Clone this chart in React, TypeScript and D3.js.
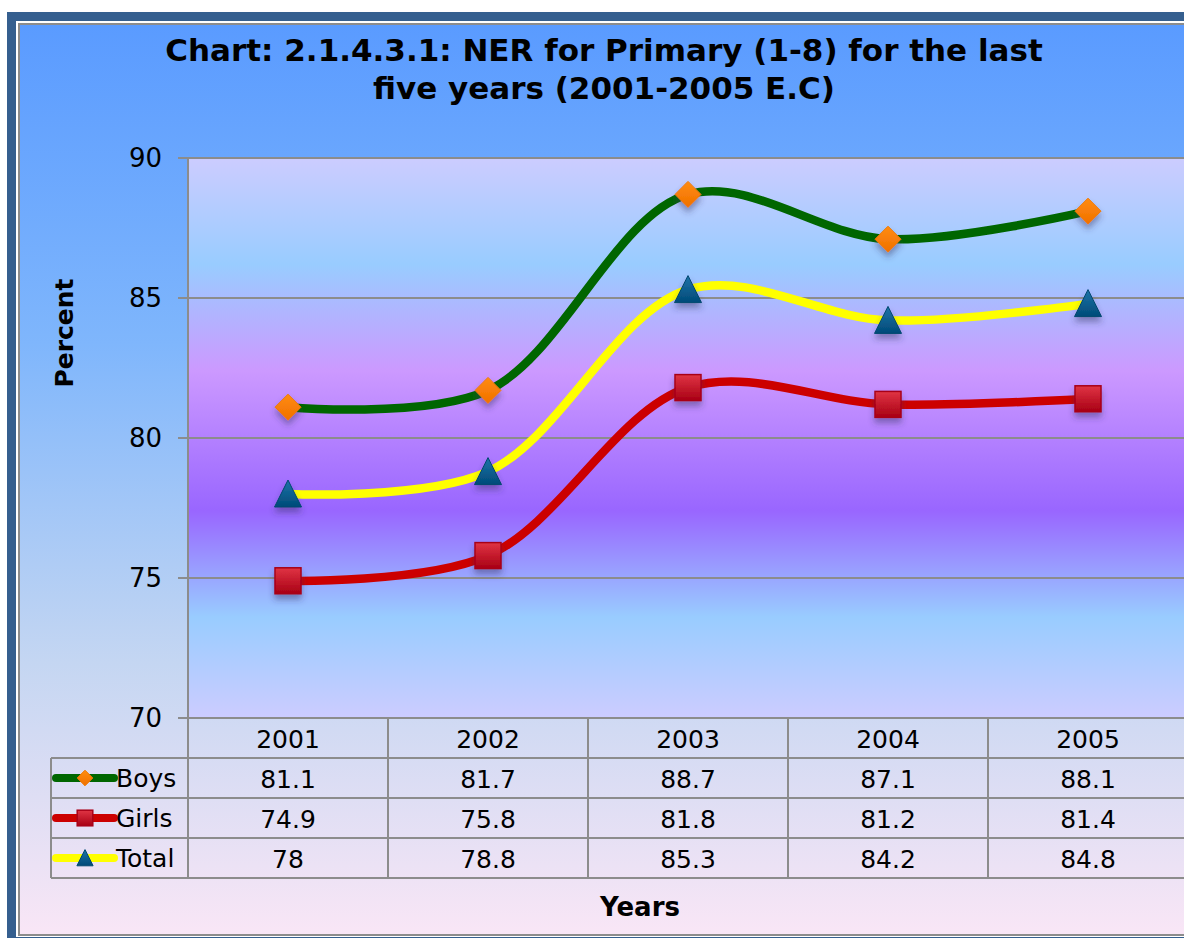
import React from "react";
import { scaleBand, scaleLinear, line, curveCatmullRom } from "d3";

// chart values
const years = ["2001", "2002", "2003", "2004", "2005"];
const boys = [81.1, 81.7, 88.7, 87.1, 88.1];
const girls = [74.9, 75.8, 81.8, 81.2, 81.4];
const total = [78, 78.8, 85.3, 84.2, 84.8];
const yTicks = [70, 75, 80, 85, 90];

const series = [
    { name: "Boys", values: boys, color: "#006600", marker: "diamond" },
    { name: "Girls", values: girls, color: "#cc0000", marker: "square" },
    { name: "Total", values: total, color: "#ffff00", marker: "triangle" },
];

const W = 1184;
const H = 938;
const plot = { left: 188, right: 1188, top: 158, bottom: 718 };
const rowH = 40;
const legendLeft = 51;
const font = "DejaVu Sans, Verdana, sans-serif";
const grid = "#8c8c8c";

const Marker = ({ type, x, y, s = 1 }: { type: string; x: number; y: number; s?: number }) => {
    if (type === "diamond") {
        const r = 13 * s;
        return (
            <path
                d={`M${x},${y - r}L${x + r},${y}L${x},${y + r}L${x - r},${y}Z`}
                fill="url(#gDiamond)"
                stroke="#f07800"
                strokeWidth={1}
            />
        );
    }
    if (type === "square") {
        const r = 13 * s;
        return (
            <rect
                x={x - r}
                y={y - r}
                width={2 * r}
                height={2 * r}
                fill="url(#gSquare)"
                stroke="#a80018"
                strokeWidth={1.5}
            />
        );
    }
    const w = 13.5 * s;
    return (
        <path
            d={`M${x},${y - 14 * s}L${x + w},${y + 13 * s}L${x - w},${y + 13 * s}Z`}
            fill="url(#gTri)"
            stroke="#004870"
            strokeWidth={1}
        />
    );
};

export default function App() {
    const x = scaleBand<string>().domain(years).range([plot.left, plot.right]);
    const y = scaleLinear().domain([70, 90]).range([plot.bottom, plot.top]);
    const cx = (yr: string) => (x(yr) as number) + x.bandwidth() / 2;

    const path = (vals: number[]) =>
        line<number>()
            .x((_, i) => cx(years[i]))
            .y((d) => y(d))
            .curve(curveCatmullRom.alpha(0.5))(vals) as string;

    const tableTop = plot.bottom;
    const tableBottom = tableTop + rowH * (series.length + 1);

    return (
        <svg
            width={W}
            height={H}
            style={{ position: "absolute", left: 0, top: 0 }}
            fontFamily={font}
        >
            <defs>
                <linearGradient id="gOuter" x1="0" y1="0" x2="0" y2="1">
                    <stop offset="0" stopColor="#5a9bff" />
                    <stop offset="0.35" stopColor="#7fb6fc" />
                    <stop offset="0.7" stopColor="#c4d6f2" />
                    <stop offset="1" stopColor="#f9e6f6" />
                </linearGradient>
                <linearGradient id="gPlot" x1="0" y1="0" x2="0" y2="1">
                    <stop offset="0" stopColor="#ccccff" />
                    <stop offset="0.19" stopColor="#99ccff" />
                    <stop offset="0.38" stopColor="#cc99ff" />
                    <stop offset="0.63" stopColor="#9966ff" />
                    <stop offset="0.82" stopColor="#99ccff" />
                    <stop offset="1" stopColor="#ccccff" />
                </linearGradient>
                <linearGradient id="gDiamond" x1="0" y1="0" x2="0" y2="1">
                    <stop offset="0" stopColor="#ff8c10" />
                    <stop offset="1" stopColor="#f07000" />
                </linearGradient>
                <linearGradient id="gSquare" x1="0" y1="0" x2="0" y2="1">
                    <stop offset="0" stopColor="#e03444" />
                    <stop offset="1" stopColor="#a80014" />
                </linearGradient>
                <linearGradient id="gTri" x1="0" y1="0" x2="0" y2="1">
                    <stop offset="0" stopColor="#1e74a8" />
                    <stop offset="1" stopColor="#004a78" />
                </linearGradient>
                <filter id="shadow" x="-50%" y="-50%" width="200%" height="220%">
                    <feDropShadow dx="0" dy="5" stdDeviation="3" floodColor="#303060" floodOpacity="0.45" />
                </filter>
                <clipPath id="clipPlot">
                    <rect x={plot.left} y={plot.top - 20} width={W - plot.left} height={plot.bottom - plot.top + 20} />
                </clipPath>
            </defs>

            {/* frame */}
            <rect x={7} y={12} width={W} height={H} fill="#355f8f" />
            <rect x={16} y={21} width={W} height={H - 21 - 1} fill="#ffffff" />
            <rect x={18} y={23} width={W} height={H - 23 - 2} fill="#8c8c8c" />
            <rect x={20} y={25} width={W} height={H - 25 - 4} fill="url(#gOuter)" />

            {/* title */}
            <text textAnchor="middle" fontWeight="bold" fontSize={31} fill="#000">
                <tspan x={604} y={61}>Chart: 2.1.4.3.1: NER for Primary (1-8) for the last</tspan>
                <tspan x={604} y={99}>five years (2001-2005 E.C)</tspan>
            </text>

            {/* plot area */}
            <rect x={plot.left} y={plot.top} width={plot.right - plot.left} height={plot.bottom - plot.top} fill="url(#gPlot)" />
            {yTicks.map((t) => (
                <g key={t}>
                    <line x1={plot.left - 10} x2={plot.right} y1={y(t)} y2={y(t)} stroke={grid} strokeWidth={2} />
                    <text x={162} y={y(t) + 9} textAnchor="end" fontSize={26} fill="#000">
                        {t}
                    </text>
                </g>
            ))}
            <line x1={plot.left} x2={plot.left} y1={plot.top} y2={tableBottom} stroke={grid} strokeWidth={2} />

            {/* series */}
            <g clipPath="url(#clipPlot)">
                {series.map((s) => (
                    <path
                        key={s.name}
                        d={path(s.values)}
                        fill="none"
                        stroke={s.color}
                        strokeWidth={8.5}
                        strokeLinecap="round"
                        strokeLinejoin="round"
                    />
                ))}
                {series.map((s) => (
                    <g key={s.name} filter="url(#shadow)">
                        {s.values.map((v, i) => (
                            <Marker key={i} type={s.marker} x={cx(years[i])} y={y(v)} />
                        ))}
                    </g>
                ))}
            </g>

            {/* data table */}
            <g>
                {years.map((yr) => (
                    <text key={yr} x={cx(yr)} y={tableTop + 30} textAnchor="middle" fontSize={25} fill="#000">
                        {yr}
                    </text>
                ))}
                {series.map((s, r) => {
                    const top = tableTop + rowH * (r + 1);
                    const mid = top + rowH / 2;
                    return (
                        <g key={s.name}>
                            <line x1={legendLeft} x2={W} y1={top} y2={top} stroke={grid} strokeWidth={2} />
                            <line x1={56} x2={114} y1={mid} y2={mid} stroke={s.color} strokeWidth={8} strokeLinecap="round" />
                            <Marker type={s.marker} x={85} y={mid} s={0.6} />
                            <text x={116} y={mid + 9} fontSize={25} fill="#000">
                                {s.name}
                            </text>
                            {s.values.map((v, i) => (
                                <text key={i} x={cx(years[i])} y={mid + 10} textAnchor="middle" fontSize={25} fill="#000">
                                    {String(v)}
                                </text>
                            ))}
                        </g>
                    );
                })}
                <line x1={legendLeft} x2={W} y1={tableBottom} y2={tableBottom} stroke={grid} strokeWidth={2} />
                <line x1={legendLeft} x2={legendLeft} y1={tableTop + rowH} y2={tableBottom} stroke={grid} strokeWidth={2} />
                {years.map((yr) => (
                    <line
                        key={yr}
                        x1={(x(yr) as number) + x.bandwidth()}
                        x2={(x(yr) as number) + x.bandwidth()}
                        y1={tableTop}
                        y2={tableBottom}
                        stroke={grid}
                        strokeWidth={2}
                    />
                ))}
            </g>

            {/* axis titles */}
            <text
                transform={`translate(73,333) rotate(-90)`}
                textAnchor="middle"
                fontWeight="bold"
                fontSize={25}
                fill="#000"
            >
                Percent
            </text>
            <text x={640} y={916} textAnchor="middle" fontWeight="bold" fontSize={26} fill="#000">
                Years
            </text>
        </svg>
    );
}
